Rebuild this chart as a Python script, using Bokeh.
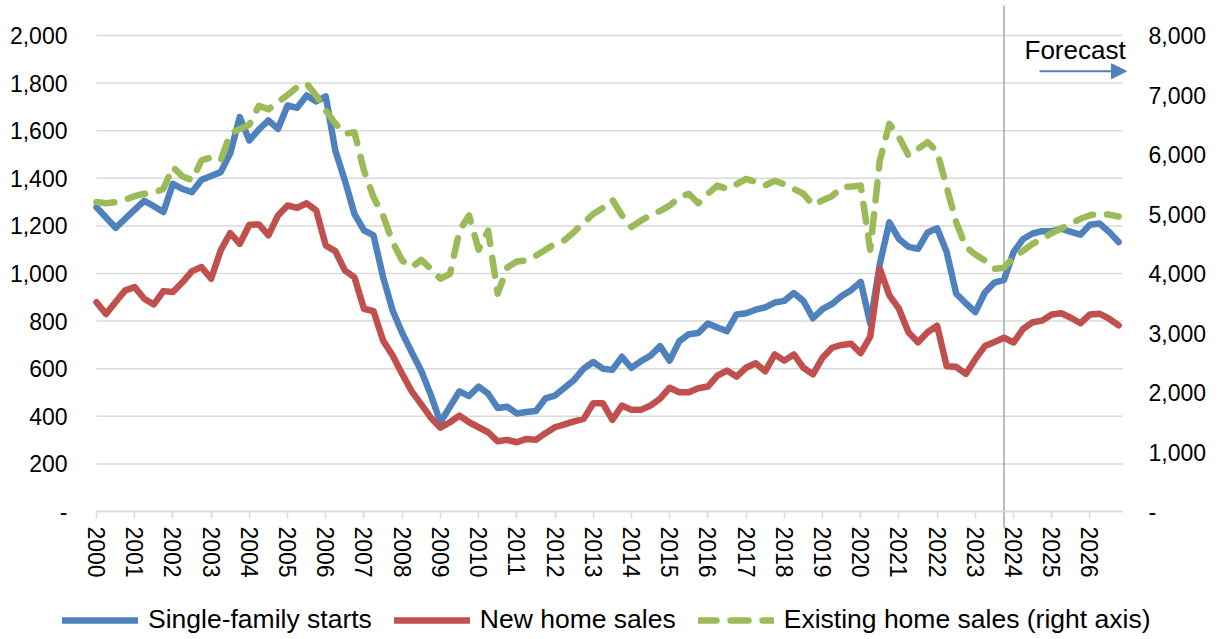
from bokeh.plotting import figure
from bokeh.models import (Range1d, LinearAxis, FixedTicker, NumeralTickFormatter,
                          Label, Arrow, NormalHead, Legend, LegendItem)
from bokeh.embed import file_html
from bokeh.resources import INLINE

# ---------------- data (quarterly, 2000Q1 .. 2026Q4) ----------------
years = list(range(2000, 2027))
quarter_x = [y + q / 4 for y in years for q in range(4)]

# Single-family starts (thousands, left axis)
starts = [
    1278, 1235, 1192, 1230,   # 2000
    1268, 1305, 1283, 1258,   # 2001
    1377, 1355, 1342, 1394,   # 2002
    1410, 1426, 1505, 1657,   # 2003
    1559, 1605, 1643, 1608,   # 2004
    1706, 1696, 1748, 1723,   # 2005
    1744, 1517, 1391, 1251,   # 2006
    1181, 1160, 985, 845,     # 2007
    750, 669, 590, 490,       # 2008
    375, 440, 505, 485,       # 2009
    525, 495, 435, 440,       # 2010
    412, 418, 422, 475,       # 2011
    487, 520, 553, 600,       # 2012
    628, 600, 595, 650,       # 2013
    603, 632, 655, 695,       # 2014
    634, 715, 745, 750,       # 2015
    790, 773, 758, 828,       # 2016
    833, 848, 858, 878,       # 2017
    885, 918, 885, 812,       # 2018
    850, 872, 905, 930,       # 2019
    965, 790, 1040, 1215,     # 2020
    1145, 1112, 1104, 1172,   # 2021
    1190, 1090, 915, 875,     # 2022
    838, 920, 962, 973,       # 2023
    1090, 1145, 1168, 1178,   # 2024
    1178, 1188, 1175, 1163,   # 2025
    1205, 1210, 1175, 1132,   # 2026
]

# New home sales (thousands, left axis)
new_sales = [
    879, 830, 880, 929,
    943, 894, 870, 926,
    922, 963, 1010, 1027,
    978, 1097, 1170, 1125,
    1205, 1206, 1160, 1244,
    1286, 1276, 1295, 1265,
    1118, 1094, 1013, 984,
    852, 842, 718, 655,
    578, 505, 450, 394,
    352, 375, 403, 375,
    354, 333, 295, 301,
    291, 305, 301, 329,
    354, 366, 379, 389,
    455, 455, 385, 445,
    427, 427, 445, 474,
    520, 501, 501, 518,
    525, 571, 592, 567,
    604, 623, 589, 660,
    634, 660, 604, 576,
    646, 688, 700, 705,
    665, 735, 1020, 908,
    852, 753, 711, 753,
    781, 610, 608, 578,
    640, 695, 712, 730,
    710, 767, 795, 802,
    828, 833, 814, 791,
    828, 831, 810, 782,
]

# Existing home sales (thousands, right axis)
existing = [
    5200, 5180, 5200, 5240,
    5300, 5340, 5360, 5420,
    5790, 5630, 5570, 5900,
    5950, 5900, 6350, 6430,
    6500, 6820, 6760, 6880,
    7000, 7130, 7190, 6990,
    6740, 6520, 6350, 6375,
    5730, 5283, 4975, 4526,
    4218, 4106, 4230, 4080,
    3911, 3995, 4720, 4975,
    4400, 4720, 3660, 4100,
    4200, 4220, 4300, 4400,
    4500, 4560, 4700, 4850,
    5000, 5100, 5240, 4980,
    4780, 4890, 4980, 5050,
    5140, 5280, 5340, 5180,
    5340, 5480, 5420, 5500,
    5590, 5540, 5480, 5560,
    5500, 5420, 5340, 5150,
    5230, 5300, 5450, 5460,
    5479, 4400, 5900, 6516,
    6291, 5983, 6096, 6207,
    6050, 5450, 4860, 4450,
    4320, 4218, 4080, 4096,
    4274, 4380, 4500, 4580,
    4680, 4760, 4835, 4920,
    4980, 5003, 4990, 4958,
]

left_ticks = list(range(0, 2001, 200))
right_ticks = list(range(0, 8001, 1000))
forecast_start = 2023.75
series_names = ["Single-family starts", "New home sales", "Existing home sales (right axis)"]

# ---------------- layout / styling ----------------
FONT = "Liberation Sans"
BLUE, RED, GREEN = "#4F81BD", "#C0504D", "#9BBB59"
GRID = "#D9D9D9"

W, H = 1222, 639
FRAME_L, FRAME_R = 56, 1160            # frame spans the full height of the canvas
X0_PX, PX_PER_YEAR = 96, 38.21         # x pixel of 2000, scale
Y0_PX, PX_PER_UNIT = 511, 0.238        # y pixel of value 0, scale

x_start = 2000 - (X0_PX - FRAME_L) / PX_PER_YEAR
x_end = 2000 + (FRAME_R - X0_PX) / PX_PER_YEAR
x_plot_end = 2000 + (1122 - X0_PX) / PX_PER_YEAR     # right end of the plot area
y_end = Y0_PX / PX_PER_UNIT
y_start = -(H - Y0_PX) / PX_PER_UNIT
vline_top = (Y0_PX - 5) / PX_PER_UNIT
vline_bottom = -17 / PX_PER_UNIT

p = figure(width=W, height=H, title=None,
           x_range=Range1d(x_start, x_end), y_range=Range1d(y_start, y_end),
           output_backend="svg", toolbar_location=None,
           min_border_left=FRAME_L, min_border_right=W - FRAME_R,
           min_border_top=0, min_border_bottom=0)
p.extra_y_ranges = {"right": Range1d(y_start * 4, y_end * 4)}
p.outline_line_color = None
p.background_fill_color = "white"
p.border_fill_color = "white"
p.xgrid.visible = False
p.ygrid.visible = False

# horizontal grid lines (left-axis ticks), spanning the plot area only
p.segment(x0=[2000] * len(left_ticks), y0=left_ticks,
          x1=[x_plot_end] * len(left_ticks), y1=left_ticks,
          line_color=GRID, line_width=1.5)

# forecast divider
p.segment(x0=[forecast_start], y0=[vline_bottom], x1=[forecast_start], y1=[vline_top],
          line_color="#A6A6A6", line_width=1.5)

r1 = p.line(quarter_x, starts, line_color=BLUE, line_width=6.5, line_join="round", line_cap="round")
r2 = p.line(quarter_x, new_sales, line_color=RED, line_width=6.5, line_join="round", line_cap="round")
r3 = p.line(quarter_x, existing, y_range_name="right", line_color=GREEN, line_width=6.5,
            line_dash="18 14", line_join="round", line_cap="round")

# x axis, drawn at y = 0 inside the frame
xa = p.xaxis[0]
xa.ticker = FixedTicker(ticks=years)
xa.fixed_location = 0
xa.bounds = (2000, x_plot_end)
xa.major_label_orientation = "vertical"
xa.axis_line_color = GRID
xa.axis_line_width = 1.5
xa.major_tick_line_color = GRID
xa.major_tick_line_width = 1.5
xa.major_tick_out = 7
xa.major_tick_in = 0
xa.minor_tick_line_color = None
xa.major_label_standoff = 8
xa.major_label_text_font = FONT
xa.major_label_text_font_size = "23px"
xa.major_label_text_color = "black"

# left axis
ya = p.yaxis[0]
ya.ticker = FixedTicker(ticks=left_ticks)
ya.formatter = NumeralTickFormatter(format="0,0")
ya.major_label_overrides = {0: "-"}
ya.axis_line_color = None
ya.major_tick_line_color = None
ya.minor_tick_line_color = None
ya.major_tick_out = 0
ya.major_tick_in = 0
ya.major_label_standoff = -11
ya.major_label_text_font = FONT
ya.major_label_text_font_size = "23px"
ya.major_label_text_color = "black"

# right axis
ra = LinearAxis(y_range_name="right", ticker=FixedTicker(ticks=right_ticks),
                formatter=NumeralTickFormatter(format="0,0"))
ra.major_label_overrides = {0: "-"}
ra.axis_line_color = None
ra.major_tick_line_color = None
ra.minor_tick_line_color = None
ra.major_tick_out = 0
ra.major_tick_in = 0
ra.major_label_standoff = -12
ra.major_label_text_font = FONT
ra.major_label_text_font_size = "23px"
ra.major_label_text_color = "black"
p.add_layout(ra, "right")

# forecast annotation
p.add_layout(Label(x=2000 + (1024 - X0_PX) / PX_PER_YEAR, y=(Y0_PX - 49) / PX_PER_UNIT,
                   text="Forecast", text_font=FONT, text_font_size="26px",
                   text_baseline="alphabetic", text_align="left", text_color="black"))
arrow_y = (Y0_PX - 70.7) / PX_PER_UNIT
p.add_layout(Arrow(end=NormalHead(size=15, fill_color=BLUE, line_color=BLUE),
                   x_start=2000 + (1039 - X0_PX) / PX_PER_YEAR, y_start=arrow_y,
                   x_end=2000 + (1126 - X0_PX) / PX_PER_YEAR, y_end=arrow_y,
                   line_color=BLUE, line_width=2))

legend = Legend(items=[LegendItem(label=series_names[0], renderers=[r1]),
                       LegendItem(label=series_names[1], renderers=[r2]),
                       LegendItem(label=series_names[2], renderers=[r3])],
                orientation="horizontal", location=(62 - FRAME_L, 4),
                glyph_width=76, glyph_height=20, label_standoff=10, spacing=22,
                padding=0, margin=0, border_line_color=None, background_fill_alpha=0,
                label_text_font=FONT, label_text_font_size="26.5px", label_text_color="black")
p.add_layout(legend)

open("out.html", "w").write(file_html(p, INLINE))
